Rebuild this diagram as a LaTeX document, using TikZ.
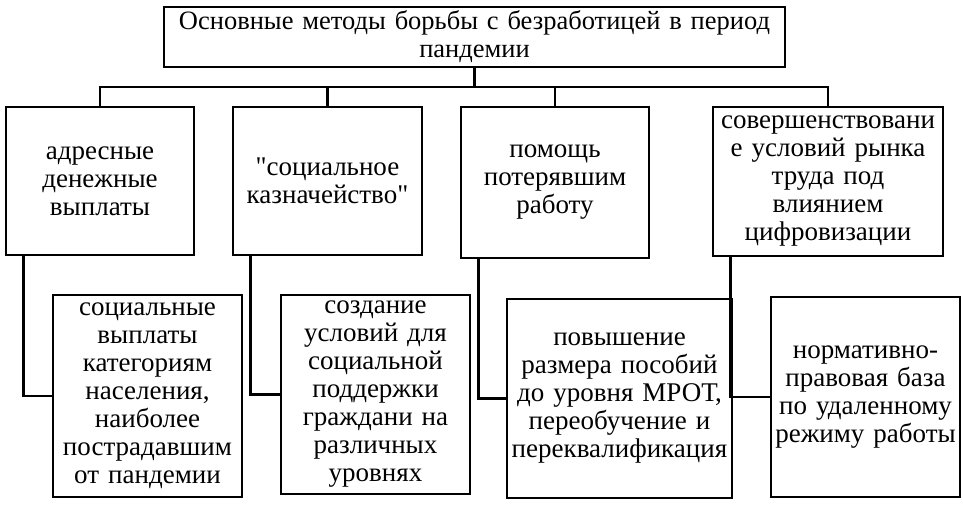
\documentclass[tikz,border=0pt]{standalone}
\usepackage{fontspec}
\setmainfont{Liberation Serif}
\newcommand\plainquote{\XeTeXglyph\numexpr\XeTeXcharglyph"22\relax}
\begin{document}
\begin{tikzpicture}[x=1pt, y=-1pt,
        box/.style={draw, line width=2.6pt, align=center, inner sep=0pt,
            font=\fontsize{27}{28}\selectfont},
        headbox/.style={box, font=\fontsize{26.5}{28}\selectfont},
        link/.style={line width=2.6pt},
        ]
        \useasboundingbox (0,0) rectangle (963,505);
        % main box
        \node[headbox, minimum width=621pt, text width=614pt, minimum height=60pt] (top) at (474.5,37)
            {Основные методы борьбы с безработицей в период\\ пандемии};
        % first level
        \node[box, minimum width=188pt, text width=184pt, minimum height=148pt] (b1) at (100,181)
            {адресные\\ денежные\\ выплаты};
        \node[box, minimum width=189pt, text width=185pt, minimum height=148pt] (b2) at (327.5,181)
            {\plainquote социальное\\ казначейство\plainquote};
        \node[box, minimum width=188pt, text width=184pt, minimum height=151pt] (b3) at (555,182.5)
            {помощь\\ потерявшим\\ работу};
        \node[box, minimum width=230pt, text width=226pt, minimum height=149pt] (b4) at (828,181.5)
            {совершенствовани\\ е условий рынка\\ труда под\\ влиянием\\ цифровизации};
        % second level
        \node[box, minimum width=189pt, text width=185pt, minimum height=202pt] (s1) at (147.5,396)
            {социальные\\ выплаты\\ категориям\\ населения,\\ наиболее\\ пострадавшим\\ от пандемии};
        \node[box, minimum width=189pt, text width=185pt, minimum height=199pt] (s2) at (375.5,394.5)
            {создание\\ условий для\\ социальной\\ поддержки\\ граждани на\\ различных\\ уровнях};
        \node[box, minimum width=225pt, text width=221pt, minimum height=199pt] (s3) at (619.5,398.5)
            {повышение\\ размера пособий\\ до уровня МРОТ,\\ переобучение и\\ переквалификация};
        \node[box, minimum width=189pt, text width=185pt, minimum height=200pt] (s4) at (865.5,397)
            {нормативно-\\ правовая база\\ по удаленному\\ режиму работы};
        % connectors
        \coordinate (bus) at (474.5,87);
        \draw[link] (top.south) -- (bus);
        \draw[link] (b1.north) |- (bus) -| (b4.north);
        \draw[link] (b2.north) -- (b2.north |- bus);
        \draw[link] (b3.north) -- (b3.north |- bus);
        \foreach \i in {1,...,4}
            \draw[link] ([xshift=19pt]b\i.south west) |- (s\i.west);
\end{tikzpicture}
\end{document}
